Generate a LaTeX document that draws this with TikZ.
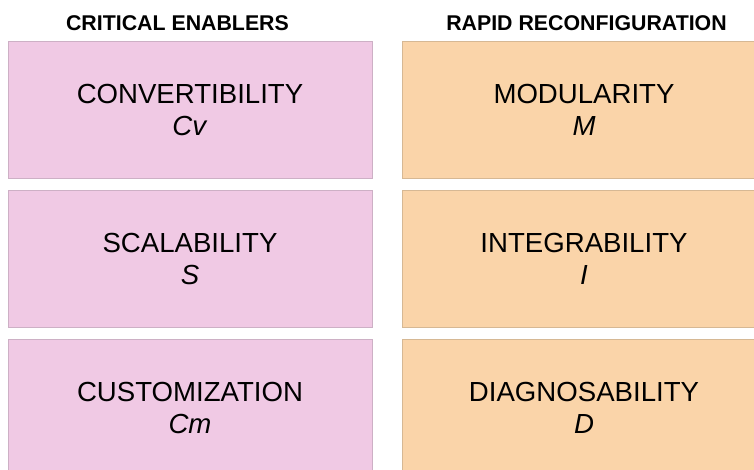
\documentclass[tikz,border=0pt]{standalone}
\usepackage{fontspec}
\setmainfont{Liberation Sans}
\definecolor{pinkfill}{HTML}{F0C9E4}
\definecolor{pinkline}{HTML}{CDB0C5}
\definecolor{orangefill}{HTML}{FAD4A9}
\definecolor{orangeline}{HTML}{D6B894}
\begin{document}
\begin{tikzpicture}[x=0.75pt,y=-0.75pt,
  box/.style={rectangle, minimum width=273pt, minimum height=102.75pt, inner sep=0pt,
    line width=0.75pt, align=center, font=\fontsize{20.7}{24}\selectfont},
  enabler/.style={box, fill=pinkfill, draw=pinkline},
  reconf/.style={box, fill=orangefill, draw=orangeline},
  header/.style={font=\bfseries\fontsize{16}{19}\selectfont, anchor=base, inner sep=0pt}]
\useasboundingbox (0,0) rectangle (754,469);
\begin{scope}
\clip (0,0) rectangle (754,469);
\node[enabler] (cv) at (190,109.5) {CONVERTIBILITY\\\textit{Cv}};
\node[enabler] (s)  at (190,258.5) {SCALABILITY\\\textit{S}};
\node[enabler] (cm) at (190,407.5) {CUSTOMIZATION\\\textit{Cm}};
\node[reconf] (m) at (584,109.5) {MODULARITY\\\textit{M}};
\node[reconf] (i) at (584,258.5) {INTEGRABILITY\\\textit{I}};
\node[reconf] (d) at (584,407.5) {DIAGNOSABILITY\\\textit{D}};
\end{scope}
\node[header] (h1) at (177.5,30.5) {CRITICAL ENABLERS};
\node[header] (h2) at (586.5,30.5) {RAPID RECONFIGURATION};
\end{tikzpicture}
\end{document}
